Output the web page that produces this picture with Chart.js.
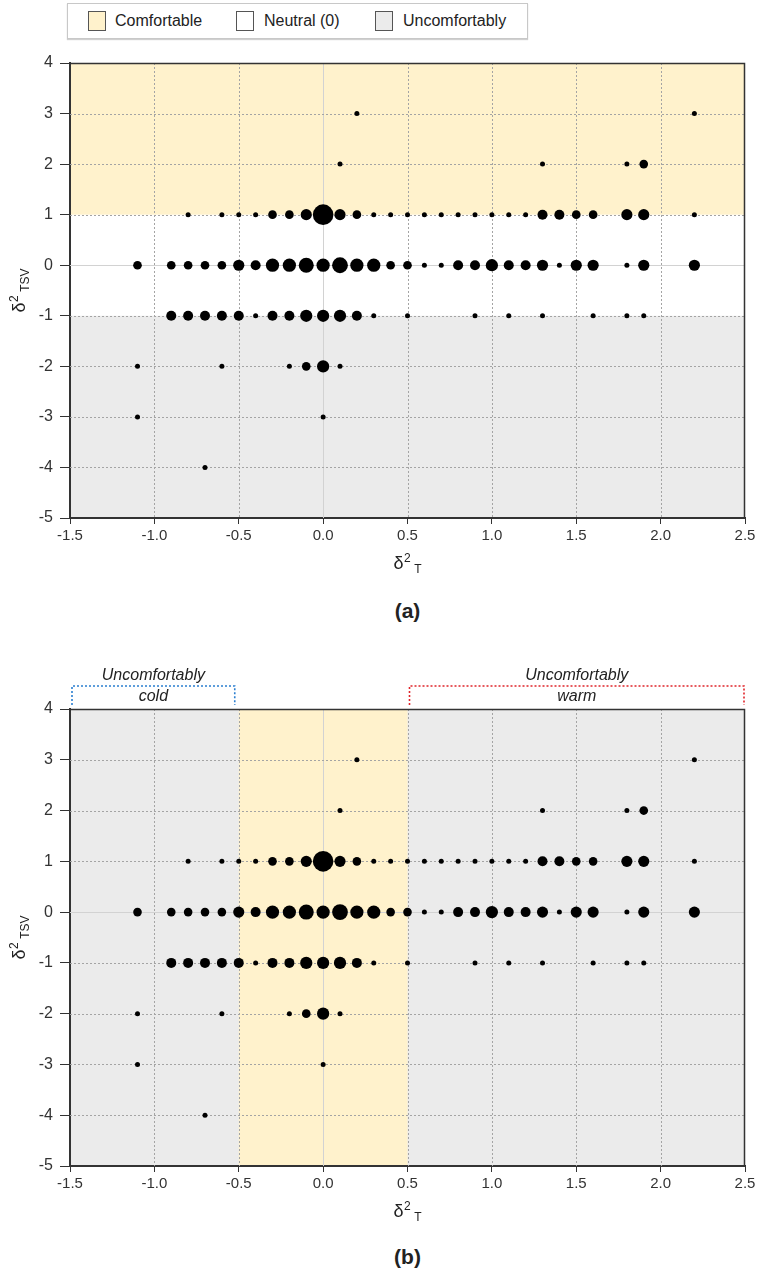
<!DOCTYPE html>
<html><head><meta charset="utf-8">
<script src="https://cdn.jsdelivr.net/npm/chart.js@4.4.1/dist/chart.umd.min.js"></script>
<style>
body{margin:0;width:762px;height:1278px;background:#fff;position:relative;overflow:hidden;font-family:"Liberation Sans",Arial,sans-serif;color:#222}
canvas{position:absolute;left:0}
#legend{position:absolute;left:67px;top:3px;width:459px;height:34px;border:1px solid #c8c8c8;box-shadow:0 1px 1px #d0d0d0;background:#fff}
.sw{position:absolute;top:7px;width:18px;height:20px;border:1px solid #555;box-sizing:border-box}
.lt{position:absolute;top:7px;font-size:16px;line-height:20px;color:#222;white-space:nowrap}
.cap{position:absolute;left:0;width:815px;text-align:center;font-weight:bold;font-size:21px;color:#222}
</style></head>
<body>
<div id="legend">
  <div class="sw" style="left:20px;background:#fff2cc"></div><div class="lt" style="left:47px">Comfortable</div>
  <div class="sw" style="left:168px;background:#fff"></div><div class="lt" style="left:196px">Neutral (0)</div>
  <div class="sw" style="left:307px;background:#ebebeb"></div><div class="lt" style="left:335px">Uncomfortably</div>
</div>
<canvas id="ca" width="762" height="540" style="top:45px"></canvas>
<div class="cap" style="top:599px">(a)</div>
<canvas id="cb" width="762" height="583" style="top:650px"></canvas>
<div class="cap" style="top:1245px">(b)</div>
<script>
// ---- data (δ²T, δ²TSV, number of observations) ----
const xVals = [
  0.2, 2.2,
  0.1, 1.3, 1.8, 1.9,
  -0.8,-0.6,-0.5,-0.4,-0.3,-0.2,-0.1,0.0,0.1,0.2,0.3,0.4,0.5,0.6,0.7,0.8,0.9,1.0,1.1,1.2,1.3,1.4,1.5,1.6,1.8,1.9,2.2,
  -1.1,-0.9,-0.8,-0.7,-0.6,-0.5,-0.4,-0.3,-0.2,-0.1,0.0,0.1,0.2,0.3,0.4,0.5,0.6,0.7,0.8,0.9,1.0,1.1,1.2,1.3,1.4,1.5,1.6,1.8,1.9,2.2,
  -0.9,-0.8,-0.7,-0.6,-0.5,-0.4,-0.3,-0.2,-0.1,0.0,0.1,0.2,0.3,0.5,0.9,1.1,1.3,1.6,1.8,1.9,
  -1.1,-0.6,-0.2,-0.1,0.0,0.1,
  -1.1,0.0,
  -0.7
];
const yVals = [
  3,3,
  2,2,2,2,
  1,1,1,1,1,1,1,1,1,1,1,1,1,1,1,1,1,1,1,1,1,1,1,1,1,1,1,
  0,0,0,0,0,0,0,0,0,0,0,0,0,0,0,0,0,0,0,0,0,0,0,0,0,0,0,0,0,0,
  -1,-1,-1,-1,-1,-1,-1,-1,-1,-1,-1,-1,-1,-1,-1,-1,-1,-1,-1,-1,
  -2,-2,-2,-2,-2,-2,
  -3,-3,
  -4
];
const counts = [
  1,1,
  1,1,1,3,
  1,1,1,1,3,3,5,17,5,3,1,1,1,1,1,1,1,1,1,1,4,4,3,3,5,5,1,
  3,3,3,3,3,5,4,7,7,9,7,10,7,7,3,3,1,1,4,4,6,4,4,5,1,5,5,1,5,5,
  4,4,4,4,4,1,4,4,6,6,6,4,1,1,1,1,1,1,1,1,
  1,1,1,3,6,1,
  1,1,
  1
];
// ---- zones ----
const comfortTSV = [1, 4];       // panel (a) comfortable band on δ²TSV
const uncomfTSV  = [-5, -1];     // panel (a) uncomfortable band on δ²TSV
const comfortT   = [-0.5, 0.5];  // panel (b) comfortable band on δ²T
const coldRange  = [-1.5, -0.5];
const warmRange  = [0.5, 2.5];
const xRange = [-1.5, 2.5];
const yRange = [-5, 4];

const YELLOW = '#fff2cc', GREY = '#ebebeb';
const FONT = '"Liberation Sans", Arial, sans-serif';

const points = xVals.map((x, i) => ({x: x, y: yVals[i], r: 2.5 * Math.sqrt(counts[i])}));

function drawDelta(ctx, cx, cy, sub, rot) {
  ctx.save();
  ctx.translate(cx, cy);
  if (rot) ctx.rotate(-Math.PI / 2);
  ctx.fillStyle = '#222';
  ctx.textBaseline = 'alphabetic';
  ctx.textAlign = 'left';
  const f1 = '18px ' + FONT, f2 = '12px ' + FONT;
  ctx.font = f1; const w1 = ctx.measureText('δ').width;
  ctx.font = f2; const w2 = ctx.measureText('2').width; const w3 = ctx.measureText(sub).width;
  const gap = 4;
  const tot = w1 + w2 + gap + w3;
  let x0 = -tot / 2;
  ctx.font = f1; ctx.fillText('δ', x0, 6);
  ctx.font = f2; ctx.fillText('2', x0 + w1 + 0.5, -1);
  ctx.fillText(sub, x0 + w1 + w2 + gap, 10);
  ctx.restore();
}

const panelPlugin = {
  id: 'panel',
  beforeDraw(chart, args, o) {
    const {ctx, chartArea: a, scales: {x, y}} = chart;
    ctx.save();
    (o.bands || []).forEach(b => {
      if (b.axis === 'y') {
        const p0 = y.getPixelForValue(b.range[1]), p1 = y.getPixelForValue(b.range[0]);
        ctx.fillStyle = b.color; ctx.fillRect(a.left, p0, a.right - a.left, p1 - p0);
      } else {
        const p0 = x.getPixelForValue(b.range[0]), p1 = x.getPixelForValue(b.range[1]);
        ctx.fillStyle = b.color; ctx.fillRect(p0, a.top, p1 - p0, a.bottom - a.top);
      }
    });
    ctx.restore();
  },
  beforeDatasetsDraw(chart) {
    const {ctx, chartArea: a, scales: {x, y}} = chart;
    ctx.save();
    ctx.lineWidth = 1;
    x.ticks.forEach(t => {
      const p = Math.round(x.getPixelForValue(t.value)) + 0.5;
      if (p <= a.left + 1 || p >= a.right - 1) return;
      if (Math.abs(t.value) < 1e-9) { ctx.setLineDash([]); ctx.strokeStyle = '#d2d2d2'; }
      else { ctx.setLineDash([2, 2]); ctx.strokeStyle = '#a4a4a4'; }
      ctx.beginPath(); ctx.moveTo(p, a.top); ctx.lineTo(p, a.bottom); ctx.stroke();
    });
    y.ticks.forEach(t => {
      const p = Math.round(y.getPixelForValue(t.value)) + 0.5;
      if (p <= a.top + 1 || p >= a.bottom - 1) return;
      if (Math.abs(t.value) < 1e-9) { ctx.setLineDash([]); ctx.strokeStyle = '#d2d2d2'; }
      else { ctx.setLineDash([2, 2]); ctx.strokeStyle = '#a4a4a4'; }
      ctx.beginPath(); ctx.moveTo(a.left, p); ctx.lineTo(a.right, p); ctx.stroke();
    });
    ctx.restore();
  },
  afterDraw(chart, args, o) {
    const {ctx, chartArea: a, scales: {x, y}} = chart;
    ctx.save();
    ctx.strokeStyle = '#333'; ctx.lineWidth = 1.5;
    ctx.beginPath(); ctx.moveTo(a.left, a.top + 0.5); ctx.lineTo(a.right - 0.5, a.top + 0.5); ctx.lineTo(a.right - 0.5, a.bottom); ctx.stroke();
    (o.brackets || []).forEach(b => {
      const p0 = x.getPixelForValue(b.range[0]) + b.inset[0];
      const p1 = x.getPixelForValue(b.range[1]) - b.inset[1];
      const top = a.top - 23, bot = a.top - 4;
      ctx.strokeStyle = b.color; ctx.lineWidth = 1.6; ctx.setLineDash([2, 2]);
      ctx.beginPath(); ctx.moveTo(p0, bot); ctx.lineTo(p0, top); ctx.lineTo(p1, top); ctx.lineTo(p1, bot); ctx.stroke();
      ctx.setLineDash([]);
      ctx.fillStyle = '#222'; ctx.font = 'italic 16px ' + FONT; ctx.textAlign = 'center'; ctx.textBaseline = 'middle';
      const cx = (p0 + p1) / 2;
      ctx.fillText(b.label[0], cx, a.top - 33);
      ctx.fillText(b.label[1], cx, a.top - 12);
    });
    drawDelta(ctx, (a.left + a.right) / 2, a.bottom + 45, 'T', false);
    drawDelta(ctx, 19, (a.top + a.bottom) / 2, 'TSV', true);
    ctx.restore();
  }
};

function makeChart(id, padTop, pluginOpts) {
  return new Chart(document.getElementById(id), {
    type: 'bubble',
    data: {datasets: [{data: points, backgroundColor: '#000', borderColor: '#000', borderWidth: 0}]},
    options: {
      responsive: false, animation: false, devicePixelRatio: 1,
      layout: {padding: {top: padTop, right: 17, left: 0, bottom: 0}},
      plugins: {legend: {display: false}, tooltip: {enabled: false}, panel: pluginOpts},
      events: [],
      scales: {
        x: {
          type: 'linear', min: xRange[0], max: xRange[1],
          ticks: {stepSize: 0.5, autoSkip: false, maxRotation: 0, padding: 3, color: '#333',
                  font: {size: 15, family: FONT}, callback: v => Number(v).toFixed(1)},
          grid: {drawOnChartArea: false, drawTicks: true, tickLength: 6, color: '#333', lineWidth: 1},
          border: {display: true, color: '#333', width: 2},
          afterFit(s) { s.height = 67; }
        },
        y: {
          type: 'linear', min: yRange[0], max: yRange[1],
          ticks: {stepSize: 1, padding: 7, color: '#333', font: {size: 16, family: FONT}},
          grid: {drawOnChartArea: false, drawTicks: true, tickLength: 10, color: '#333', lineWidth: 1},
          border: {display: true, color: '#333', width: 2},
          afterFit(s) { s.width = 70; }
        }
      }
    },
    plugins: [panelPlugin]
  });
}

makeChart('ca', 18, {
  bands: [{axis: 'y', range: comfortTSV, color: YELLOW}, {axis: 'y', range: uncomfTSV, color: GREY}]
});
makeChart('cb', 59, {
  bands: [{axis: 'x', range: xRange, color: GREY}, {axis: 'x', range: comfortT, color: YELLOW}],
  brackets: [
    {range: coldRange, inset: [2, 4], color: '#2b7fd0', label: ['Uncomfortably', 'cold']},
    {range: warmRange, inset: [2, 1], color: '#e0242a', label: ['Uncomfortably', 'warm']}
  ]
});
</script>
</body></html>
